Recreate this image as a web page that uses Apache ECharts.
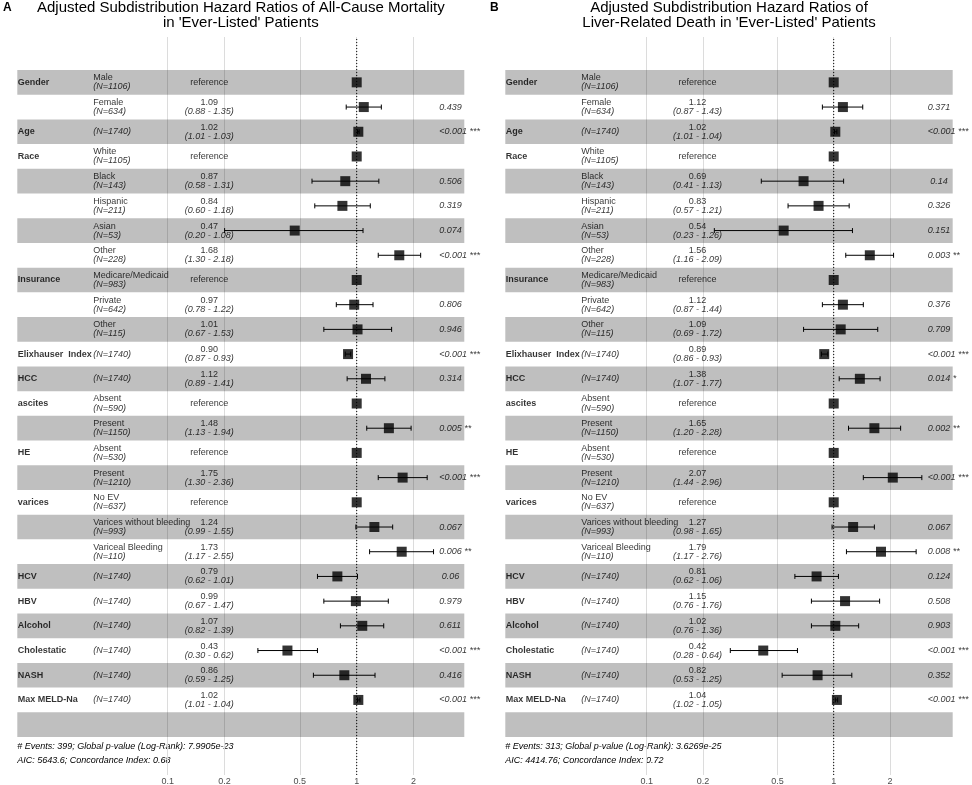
<!DOCTYPE html>
<html><head><meta charset="utf-8">
<script src="https://cdn.jsdelivr.net/npm/echarts@6/dist/echarts.min.js"></script>
<style>html,body{margin:0;padding:0;background:#fff}#c{width:972px;height:785px}</style>
</head><body><div id="c"></div>
<script>
// ---------------- data ----------------
const variables = ['Gender','','Age','Race','','','','','Insurance','','','Elixhauser  Index','HCC','ascites','','HE','','varices','','','HCV','HBV','Alcohol','Cholestatic','NASH','Max MELD-Na',''];
const levels = ['Male','Female','','White','Black','Hispanic','Asian','Other','Medicare/Medicaid','Private','Other','','','Absent','Present','Absent','Present','No EV','Varices without bleeding','Variceal Bleeding','','','','','','',''];
const counts = [1106,634,1740,1105,143,211,53,228,983,642,115,1740,1740,590,1150,530,1210,637,993,110,1740,1740,1740,1740,1740,1740,null];

const hrA    = [1,1.09,1.02,1,0.87,0.84,0.47,1.68,1,0.97,1.01,0.90,1.12,1,1.48,1,1.75,1,1.24,1.73,0.79,0.99,1.07,0.43,0.86,1.02,null];
const lowerA = [null,0.88,1.01,null,0.58,0.60,0.20,1.30,null,0.78,0.67,0.87,0.89,null,1.13,null,1.30,null,0.99,1.17,0.62,0.67,0.82,0.30,0.59,1.01,null];
const upperA = [null,1.35,1.03,null,1.31,1.18,1.08,2.18,null,1.22,1.53,0.93,1.41,null,1.94,null,2.36,null,1.55,2.55,1.01,1.47,1.39,0.62,1.25,1.04,null];
const pA = ['','0.439','<0.001 ***','','0.506','0.319','0.074','<0.001 ***','','0.806','0.946','<0.001 ***','0.314','','0.005 **','','<0.001 ***','','0.067','0.006 **',' 0.06','0.979','0.611','<0.001 ***','0.416','<0.001 ***',''];

const hrB    = [1,1.12,1.02,1,0.69,0.83,0.54,1.56,1,1.12,1.09,0.89,1.38,1,1.65,1,2.07,1,1.27,1.79,0.81,1.15,1.02,0.42,0.82,1.04,null];
const lowerB = [null,0.87,1.01,null,0.41,0.57,0.23,1.16,null,0.87,0.69,0.86,1.07,null,1.20,null,1.44,null,0.98,1.17,0.62,0.76,0.76,0.28,0.53,1.02,null];
const upperB = [null,1.43,1.04,null,1.13,1.21,1.26,2.09,null,1.44,1.72,0.93,1.77,null,2.28,null,2.96,null,1.65,2.76,1.06,1.76,1.36,0.64,1.25,1.05,null];
const pB = ['','0.371','<0.001 ***','',' 0.14','0.326','0.151','0.003 **','','0.376','0.709','<0.001 ***','0.014 *','','0.002 **','','<0.001 ***','','0.067','0.008 **','0.124','0.508','0.903','<0.001 ***','0.352','<0.001 ***',''];

const tickValues = [0.1, 0.2, 0.5, 1, 2];
const titleA = ['Adjusted Subdistribution Hazard Ratios of All-Cause Mortality', "in 'Ever-Listed' Patients"];
const titleB = ['Adjusted Subdistribution Hazard Ratios of', "Liver-Related Death in 'Ever-Listed' Patients"];
const noteA = ['# Events: 399; Global p-value (Log-Rank): 7.9905e-23', 'AIC: 5643.6; Concordance Index: 0.68'];
const noteB = ['# Events: 313; Global p-value (Log-Rank): 3.6269e-25', 'AIC: 4414.76; Concordance Index: 0.72'];

// ---------------- layout ----------------
const FONT = '"Liberation Sans", Arial, Helvetica, sans-serif';
const ROWS = variables.length;
const TABLE_TOP = 70, TABLE_H = 667, LINES_TOP = 37, LINES_H = 738;
const colPos = { variable: 0.001, level: 0.170, estimate: 0.4295, pvalue: 0.944 };
const panels = [
  { letter: 'A', left: 17.3, width: 447, min: 0.016001, max: 3.7094, hr: hrA, lo: lowerA, hi: upperA, p: pA, title: titleA, note: noteA, letterX: 3 },
  { letter: 'B', left: 505.3, width: 447.4, min: 0.017533, max: 4.3288, hr: hrB, lo: lowerB, hi: upperB, p: pB, title: titleB, note: noteB, letterX: 490 }
];

const grid = [], xAxis = [], yAxis = [], series = [], graphic = [];
const rowIdx = variables.map((_, i) => i);

panels.forEach((P, i) => {
  grid.push({ left: P.left, width: P.width, top: LINES_TOP, height: LINES_H, containLabel: false, outerBoundsMode: 'none' });
  grid.push({ left: P.left, width: P.width, top: TABLE_TOP, height: TABLE_H, containLabel: false, outerBoundsMode: 'none' });
  const gL = 2 * i, gT = 2 * i + 1;
  const xL = 3 * i, xT = 3 * i + 1, xTxt = 3 * i + 2;
  const yL = 2 * i, yT = 2 * i + 1;
  xAxis.push({
    type: 'log', logBase: 10, gridIndex: gL, min: P.min, max: P.max,
    axisLine: { show: false },
    axisTick: { show: false, customValues: tickValues },
    axisLabel: { show: true, customValues: tickValues, margin: 2, fontSize: 9, color: '#4d4d4d', fontFamily: FONT,
      formatter: v => String(Math.round(v * 10) / 10) },
    splitLine: { show: true, lineStyle: { color: '#dcdcdc', width: 1 } },
    minorSplitLine: { show: false }
  });
  xAxis.push({ type: 'log', logBase: 10, gridIndex: gT, min: P.min, max: P.max, show: false, splitLine: { show: false } });
  xAxis.push({ type: 'value', gridIndex: gT, min: 0, max: 1, show: false, splitLine: { show: false } });
  yAxis.push({ type: 'value', gridIndex: gL, min: 0, max: 1, show: false, splitLine: { show: false } });
  yAxis.push({ type: 'category', gridIndex: gT, data: rowIdx.map(String), inverse: true, show: false,
    axisTick: { show: false }, splitLine: { show: false } });

  // alternating row bands
  series.push({
    type: 'bar', xAxisIndex: xTxt, yAxisIndex: yT, barWidth: '100%', silent: true, z: 1,
    itemStyle: { color: 'rgba(0,0,0,0.25)' },
    data: rowIdx.map(r => (r % 2 === 0 ? 1 : '-'))
  });
  // reference line at HR = 1
  series.push({
    type: 'line', xAxisIndex: xL, yAxisIndex: yL, symbol: 'none', silent: true, z: 3,
    lineStyle: { color: '#000', width: 1, type: [1, 2] },
    data: [[1, 0], [1, 1]]
  });
  // confidence intervals
  series.push({
    type: 'custom', xAxisIndex: xT, yAxisIndex: yT, silent: true, z: 4, clip: false,
    encode: { x: [0, 1], y: 2 },
    data: rowIdx.filter(r => P.lo[r] != null).map(r => [P.lo[r], P.hi[r], r]),
    renderItem: (params, api) => {
      const y = api.value(2);
      const a = api.coord([api.value(0), y]);
      const b = api.coord([api.value(1), y]);
      const cap = 2.5;
      const st = { stroke: '#000', lineWidth: 1 };
      return { type: 'group', children: [
        { type: 'line', shape: { x1: a[0], y1: a[1], x2: b[0], y2: b[1] }, style: st },
        { type: 'line', shape: { x1: a[0], y1: a[1] - cap, x2: a[0], y2: a[1] + cap }, style: st },
        { type: 'line', shape: { x1: b[0], y1: b[1] - cap, x2: b[0], y2: b[1] + cap }, style: st }
      ] };
    }
  });
  // point estimates
  series.push({
    type: 'scatter', xAxisIndex: xT, yAxisIndex: yT, symbol: 'rect', symbolSize: 10, silent: true, z: 5,
    itemStyle: { color: '#000' },
    data: rowIdx.filter(r => P.hr[r] != null).map(r => [P.hr[r], r])
  });

  // text columns
  const rich = {
    n: { fontSize: 9, lineHeight: 9, fontFamily: FONT, color: '#000' },
    i: { fontSize: 9, lineHeight: 9, fontFamily: FONT, color: '#000', fontStyle: 'italic' },
    b: { fontSize: 9, lineHeight: 9, fontFamily: FONT, color: '#000', fontWeight: 'bold' }
  };
  const textSeries = (col, align, fmt) => ({
    type: 'scatter', xAxisIndex: xTxt, yAxisIndex: yT, symbolSize: 0, silent: true, z: 6,
    itemStyle: { color: 'transparent' },
    label: { show: true, position: 'inside', align: align, verticalAlign: 'middle', rich: rich,
      formatter: prm => fmt(prm.value[1]) },
    labelLayout: { hideOverlap: false },
    data: rowIdx.map(r => [colPos[col], r])
  });
  series.push(textSeries('variable', 'left', r => variables[r] ? '{b|' + variables[r] + '}' : ''));
  series.push(textSeries('level', 'left', r => {
    if (counts[r] == null) return '';
    const nTxt = '{i|(N=' + counts[r] + ')}';
    return levels[r] ? '{n|' + levels[r] + '}\n' + nTxt : nTxt;
  }));
  series.push(textSeries('estimate', 'center', r => {
    if (P.hr[r] == null) return '';
    if (P.lo[r] == null) return '{n|reference}';
    return '{n|' + P.hr[r].toFixed(2) + '}\n{i|(' + P.lo[r].toFixed(2) + ' - ' + P.hi[r].toFixed(2) + ')}';
  }));
  series.push(textSeries('pvalue', 'left', r => P.p[r] ? '{i|' + P.p[r] + '}' : ''));

  // titles, panel letters, footnotes
  const cx = P.left + P.width / 2;
  P.title.forEach((t, k) => graphic.push({
    type: 'text', x: cx, y: 8 + k * 14.8, silent: true,
    style: { text: t, fontSize: 15, fontFamily: FONT, fill: '#000', align: 'center', verticalAlign: 'middle' }
  }));
  graphic.push({ type: 'text', x: P.letterX, y: 8, silent: true,
    style: { text: P.letter, fontSize: 12, fontWeight: 'bold', fontFamily: FONT, fill: '#000', align: 'left', verticalAlign: 'middle' } });
  P.note.forEach((t, k) => graphic.push({
    type: 'text', x: P.left, y: 746 + k * 14.5, silent: true,
    style: { text: t, fontSize: 9, fontStyle: 'italic', fontFamily: FONT, fill: '#000', align: 'left', verticalAlign: 'middle' }
  }));
});

const chart = echarts.init(document.getElementById('c'), null, { renderer: 'canvas' });
chart.setOption({
  animation: false,
  backgroundColor: '#fff',
  textStyle: { fontFamily: FONT },
  grid, xAxis, yAxis, series, graphic
});
</script>
</body></html>
